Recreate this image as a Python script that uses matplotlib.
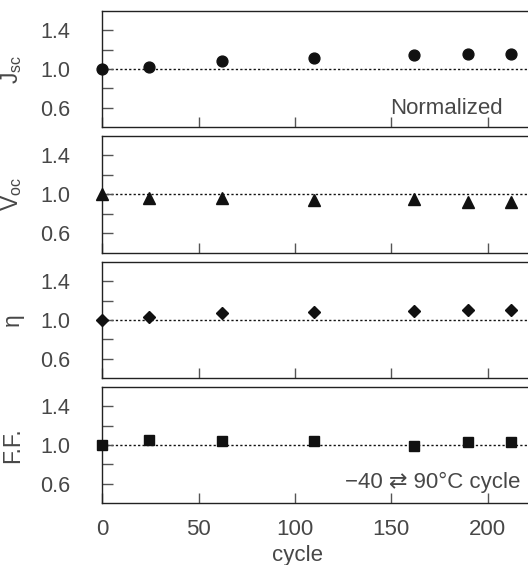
import matplotlib
matplotlib.use('Agg')
import matplotlib.pyplot as plt

plt.rcParams['font.family'] = ['Liberation Sans', 'DejaVu Sans']
plt.rcParams['mathtext.fontset'] = 'custom'
plt.rcParams['mathtext.rm'] = 'Liberation Sans'

# cycle numbers and normalized values
cycles = [0, 24, 62, 110, 162, 190, 212]
jsc = [1.0, 1.02, 1.08, 1.115, 1.145, 1.15, 1.15]
voc = [1.0, 0.966, 0.966, 0.94, 0.95, 0.925, 0.92]
eta = [1.0, 1.028, 1.069, 1.086, 1.097, 1.103, 1.103]
ff = [1.0, 1.05, 1.045, 1.045, 0.993, 1.03, 1.03]

labels = [r'J$_{\rm sc}$', r'V$_{\rm oc}$', 'η', 'F.F.']
markers = ['o', '^', 'D', 's']
msizes = [7.8, 8.2, 6.2, 7.5]
series = [jsc, voc, eta, ff]
xticks = [0, 50, 100, 150, 200]

txt = '#474747'
W, H = 528, 565
fig = plt.figure(figsize=(W / 100, H / 100), dpi=100)

tops = [10.7, 136.0, 261.7, 386.7]
ph = 116.6
left = 102.4
width = 481.5

for i, (vals, lab, mk, ms, top) in enumerate(zip(series, labels, markers, msizes, tops)):
    ax = fig.add_axes([left / W, (H - top - ph) / H, width / W, ph / H])
    ax.axhline(1.0, color='#111111', lw=1.0, dashes=(1.6, 1.6), zorder=1)
    ax.plot(cycles, vals, ls='none', marker=mk, ms=ms, color='#111111',
            clip_on=False, zorder=3)
    ax.set_xlim(0, 250)
    ax.set_ylim(0.4, 1.6)
    ax.set_yticks([0.6, 0.8, 1.0, 1.2, 1.4])
    ax.set_yticklabels(['0.6', '', '1.0', '', '1.4'])
    ax.set_xticks(xticks)
    ax.tick_params(axis='y', direction='in', length=8, width=1.0, color='#555555',
                   pad=23, labelsize=15.5, labelcolor=txt)
    ax.tick_params(axis='x', direction='in', length=7, width=1.0, color='#555555',
                   pad=11, labelsize=16, labelcolor=txt)
    for sp in ax.spines.values():
        sp.set_linewidth(1.0)
        sp.set_color('#222222')
    ax.set_ylabel(lab, fontsize=16.5, color=txt)
    ax.yaxis.set_label_coords(-0.163, 0.5)
    if i < 3:
        ax.tick_params(axis='x', labelbottom=False)
    else:
        ax.set_xlabel('cycle', fontsize=16, color=txt)
        ax.xaxis.set_label_coords((297 - left) / width, -0.36)
    if i == 0:
        ax.text((503 - left) / width, 0.165, 'Normalized', transform=ax.transAxes,
                ha='right', va='center', fontsize=16, color=txt)
    if i == 3:
        ax.text((520 - left) / width, 0.18, '−40 ⇄ 90°C cycle', transform=ax.transAxes,
                ha='right', va='center', fontsize=16, color=txt)

fig.savefig('out.png', dpi=100)
